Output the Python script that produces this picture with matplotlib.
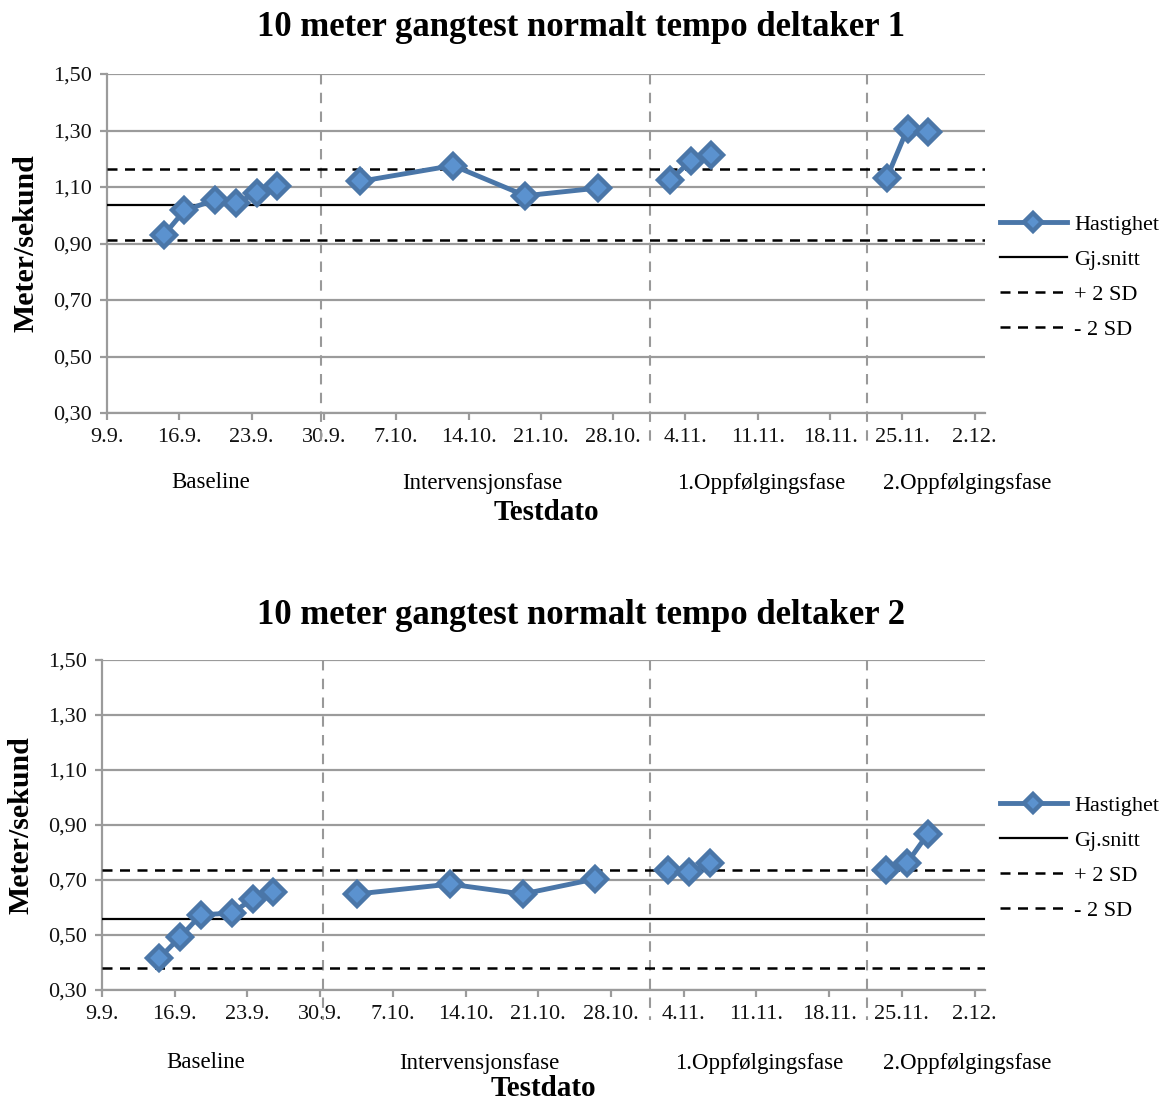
import matplotlib
matplotlib.use("Agg")
import matplotlib.pyplot as plt
import matplotlib.transforms as mtransforms
from matplotlib.ticker import FixedLocator, FuncFormatter
import numpy as np
import pandas as pd

plt.rcParams['font.family'] = ['Liberation Serif', 'DejaVu Serif']

start = pd.Timestamp('2013-09-09')

# testdatoer (dag.måned)
dates_1 = ['14.9', '16.9', '19.9', '21.9', '23.9', '25.9', '3.10', '12.10', '19.10',
           '26.10', '2.11', '4.11', '6.11', '23.11', '25.11', '27.11']
dates_2 = ['14.9', '16.9', '18.9', '21.9', '23.9', '25.9', '3.10', '12.10', '19.10',
           '26.10', '2.11', '4.11', '6.11', '23.11', '25.11', '27.11']

speed_1 = [0.93, 1.017, 1.055, 1.043, 1.079, 1.105, 1.12, 1.176, 1.069,
           1.096, 1.124, 1.192, 1.215, 1.133, 1.307, 1.296]
speed_2 = [0.415, 0.492, 0.573, 0.58, 0.631, 0.656, 0.649, 0.685, 0.649,
           0.704, 0.737, 0.728, 0.762, 0.738, 0.762, 0.868]

# gjennomsnitt og +/- 2 SD fra baseline
mean_1, upper_1, lower_1 = 1.037, 1.162, 0.913
mean_2, upper_2, lower_2 = 0.558, 0.737, 0.379

# fasegrenser i dager etter 9.9.
phase_bounds_1 = [20.7, 52.6, 73.6]
phase_bounds_2 = [21.3, 52.8, 73.6]
phase_names = ['Baseline', 'Intervensjonsfase', '1.Oppfølgingsfase', '2.Oppfølgingsfase']
phase_label_x = [10.0, 36.3, 63.3, 83.3]

yticks = [0.30, 0.50, 0.70, 0.90, 1.10, 1.30, 1.50]
xticks = list(range(0, 85, 7))

titles = ['10 meter gangtest normalt tempo deltaker 1',
          '10 meter gangtest normalt tempo deltaker 2']


def to_days(labels):
    out = []
    for s in labels:
        d, m = s.split('.')
        t = pd.Timestamp(year=2013, month=int(m), day=int(d))
        # punktene ligger midt i dagen
        out.append((t - start).days + 0.5)
    return np.array(out)


def tick_label(v, pos):
    t = start + pd.Timedelta(days=int(v))
    return f'{t.day}.{t.month}.'


fig = plt.figure(figsize=(11.66, 11.02), dpi=100)
ax1 = fig.add_axes([107 / 1166, 1 - 413 / 1102, 878 / 1166, 339 / 1102])
ax2 = fig.add_axes([102 / 1166, 1 - 990 / 1102, 883 / 1166, 330 / 1102])

grid_c = '#9b9b9b'
blue = '#4a76a8'
face = '#5b92cf'

panels = [
    (ax1, dates_1, speed_1, mean_1, upper_1, lower_1, phase_bounds_1, titles[0], 28, 26, 70, 100),
    (ax2, dates_2, speed_2, mean_2, upper_2, lower_2, phase_bounds_2, titles[1], 615, 21, 73, 98),
]

for ax, dates, speed, mean, upper, lower, bounds, title, title_y, ylab_x, phase_dy, xlab_dy in panels:
    ax.set_xlim(0, 85)
    ax.set_ylim(0.30, 1.50)
    ax.yaxis.set_major_locator(FixedLocator(yticks))
    ax.yaxis.set_major_formatter(FuncFormatter(lambda v, p: f'{v:.2f}'.replace('.', ',')))
    ax.xaxis.set_major_locator(FixedLocator(xticks))
    ax.xaxis.set_major_formatter(FuncFormatter(tick_label))
    ax.grid(axis='y', color=grid_c, linewidth=1.6)
    ax.set_axisbelow(True)
    for side in ['top', 'right']:
        ax.spines[side].set_visible(False)
    for side in ['left', 'bottom']:
        ax.spines[side].set_color(grid_c)
        ax.spines[side].set_linewidth(1.6)
    ax.tick_params(axis='both', colors=grid_c, labelcolor='#111111', width=1.6,
                   length=5, labelsize=16)
    ax.tick_params(axis='x', pad=6)
    ax.tick_params(axis='y', pad=6)

    # linja brytes ved hvert faseskifte
    x = to_days(dates)
    speed = np.array(speed)
    phase = np.searchsorted(bounds, x)
    for k in range(len(bounds) + 1):
        sel = phase == k
        ax.plot(x[sel], speed[sel], color=blue, linewidth=3.5, marker='D', markersize=12,
                markerfacecolor=face, markeredgecolor=blue, markeredgewidth=3.2,
                label='Hastighet' if k == 0 else None, zorder=5)
    ax.axhline(mean, color='black', linewidth=1.6, label='Gj.snitt', zorder=3)
    ax.axhline(upper, color='black', linewidth=1.8, dashes=(4, 3), label='+ 2 SD', zorder=3)
    ax.axhline(lower, color='black', linewidth=1.8, dashes=(4, 3), label='- 2 SD', zorder=3)

    trans = mtransforms.blended_transform_factory(ax.transData, ax.transAxes)
    for b in bounds:
        ax.plot([b, b], [1.0, -0.09], transform=trans, color='#999999',
                linewidth=1.5, dashes=(5, 4), clip_on=False, zorder=2)

    for name, px in zip(phase_names, phase_label_x):
        ax.annotate(name, xy=(px, 0), xycoords=trans, xytext=(0, -phase_dy),
                    textcoords='offset pixels', ha='center', va='center', fontsize=16.5)
    ax.annotate('Testdato', xy=(0.5, 0), xycoords='axes fraction', xytext=(0, -xlab_dy),
                textcoords='offset pixels', ha='center', va='center',
                fontsize=21, fontweight='bold')

    ax.set_ylabel('Meter/sekund', fontsize=21.5, fontweight='bold', va='center')
    ax.yaxis.set_label_coords(ylab_x / 1166, 0.5, transform=mtransforms.blended_transform_factory(
        fig.transFigure, ax.transAxes))

    fig.text(581 / 1166, 1 - title_y / 1102, title, ha='center', va='center',
             fontsize=25, fontweight='bold')

    ax.legend(loc='center left', bbox_to_anchor=(1.017, 0.40), frameon=False,
              fontsize=16, handlelength=3.0, labelspacing=0.65, borderaxespad=0,
              borderpad=0, handletextpad=0.35, markerscale=0.75)

fig.savefig('out.png', dpi=100)
